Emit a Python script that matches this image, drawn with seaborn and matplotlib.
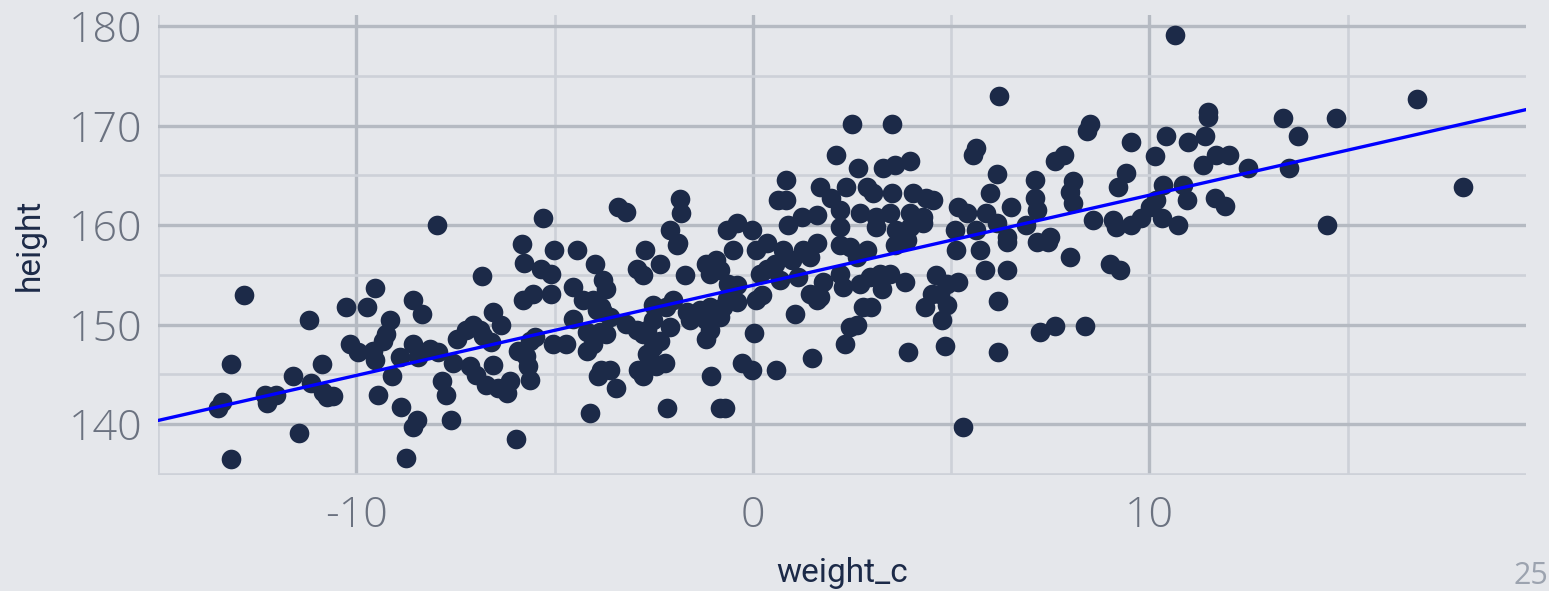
import matplotlib
matplotlib.use("Agg")
import matplotlib.pyplot as plt
from matplotlib.ticker import MultipleLocator
import seaborn as sns
import pandas as pd

# centred weight (kg) and height (cm)
weight_c = [
    -12.83, -13.17, -13.17, -13.39, -13.49, -12.31, -12.26, -12.03, -11.59, -11.44,
    -11.19, -10.86, -11.13, -10.84, -10.75, -10.59, -10.25, -9.74, -9.52, -10.16,
    -9.95, -9.58, -9.53, -9.32, -9.24, -9.16, -9.45, -9.11, -5.81, -5.02,
    -4.43, -3.98, -5.78, -5.33, -5.08, -6.84, -3.79, -3.69, -4.53, -4.28,
    -4.03, -3.82, -5.79, -5.54, -5.08, -8.57, -8.33, -6.55, -6.34, -7.05,
    -7.22, -6.89, -7.47, -6.59, -6.80, -8.57, -8.15, -7.94, -8.44, -8.90,
    -5.92, -5.62, -5.50, -5.71, -5.67, -5.61, -5.04, -4.70, -4.53, -4.19,
    -4.03, -3.86, -3.69, -3.94, -3.78, -4.19, -7.56, -7.14, -6.97, -6.55,
    -6.72, -6.42, -6.13, -6.21, -7.85, -7.73, -3.82, -3.90, -3.44, -8.86,
    -8.48, -8.57, -7.60, -4.11, -5.96, -8.75, -7.96, -5.29, -3.40, -2.72,
    -1.92, -2.35, -2.93, -2.77, -1.72, -1.17, -0.92, -1.08, -0.83, -0.50,
    -0.62, -0.41, 0.09, 0.35, 0.76, 1.27, 1.61, 1.44, 0.98, 0.55,
    0.18, 0.35, 0.68, 1.14, 1.77, 2.28, 2.19, -3.61, -3.19, -2.93,
    -2.51, -2.68, -2.77, -2.35, -2.51, -2.09, -1.59, -1.67, -2.01, -2.51,
    -2.18, -1.34, -1.08, -0.75, -1.17, -1.00, -0.83, -1.08, -1.17, -0.41,
    -0.66, 0.09, 0.22, -3.61, -2.89, -2.77, -2.60, -2.43, -2.22, -2.68,
    -2.16, -1.06, -0.83, -0.71, -0.28, -0.03, 0.58, 0.03, 1.06, 1.50,
    1.61, 1.69, 1.44, 2.32, 2.45, 2.45, 2.87, 2.62, 2.19, 2.70,
    2.95, 3.20, 3.46, 3.25, 3.83, 2.78, 2.99, 2.62, 3.58, 5.12,
    4.63, 4.89, 5.18, 4.51, 4.72, 4.34, 4.89, 4.76, 3.92, 4.84,
    5.73, 5.85, 6.40, 6.40, 7.16, 7.45, 7.99, 6.19, 6.19, 7.24,
    7.62, 8.37, 5.29, 9.00, 9.26, -3.19, -1.84, -1.80, -2.09, -1.88,
    -0.66, -0.41, -0.03, 0.89, 1.23, 1.61, 0.64, 0.85, 0.85, 1.69,
    1.98, 2.36, 2.11, 2.50, 2.19, 2.19, 3.50, 2.66, 3.29, 3.58,
    3.96, 6.20, 5.56, 5.64, 6.15, 5.98, 7.11, 7.11, 7.16, 7.62,
    7.84, 8.08, 7.99, 8.08, 6.52, 5.18, 5.39, 5.89, 5.09, 5.64,
    6.15, 6.40, 6.90, 7.49, 2.87, 3.03, 3.50, 4.04, 4.38, 4.55,
    2.70, 3.12, 3.46, 3.96, 4.30, 3.12, 3.62, 3.96, 4.30, 3.88,
    10.64, 11.48, 11.48, 8.50, 8.42, 9.53, 10.42, 10.14, 10.98, 11.40,
    11.69, 12.01, 11.36, 12.49, 13.37, 13.75, 13.53, 9.42, 9.21, 10.35,
    10.85, 10.94, 10.18, 10.01, 10.31, 9.80, 9.55, 9.09, 9.17, 8.58,
    10.73, 11.65, 11.90, 14.70, 16.74, 17.91, 14.49,
]
height = [
    153.0, 146.0, 136.5, 142.2, 141.6, 142.9, 142.1, 142.9, 144.8, 139.1,
    150.5, 146.0, 144.1, 143.2, 142.7, 142.8, 151.8, 151.8, 153.7, 148.1,
    147.3, 147.4, 146.4, 148.4, 149.1, 150.5, 142.9, 144.8, 158.1, 157.5,
    157.5, 156.1, 156.2, 155.6, 155.1, 154.9, 154.5, 153.6, 153.8, 152.5,
    152.5, 151.8, 152.5, 153.1, 153.1, 152.5, 151.1, 151.3, 150.0, 150.0,
    149.5, 149.5, 148.6, 148.3, 148.9, 148.1, 147.6, 147.3, 146.8, 146.8,
    147.4, 148.4, 148.8, 146.9, 145.8, 144.4, 148.1, 148.1, 150.6, 147.4,
    148.1, 149.3, 149.1, 151.5, 151.3, 149.3, 146.1, 145.8, 144.9, 145.9,
    143.9, 143.6, 144.3, 143.1, 144.3, 142.9, 145.4, 144.8, 143.6, 141.7,
    140.4, 139.7, 140.4, 141.1, 138.5, 136.6, 160.0, 160.7, 161.8, 157.5,
    158.0, 156.1, 155.6, 155.0, 155.0, 156.1, 156.5, 155.1, 155.5, 157.5,
    154.1, 154.0, 157.5, 158.2, 157.5, 157.5, 158.2, 156.8, 156.5, 156.1,
    155.1, 155.6, 154.5, 154.8, 154.3, 153.8, 158.0, 150.8, 150.1, 149.5,
    150.5, 149.5, 149.1, 148.4, 147.8, 149.8, 150.5, 151.3, 152.5, 152.0,
    151.8, 151.5, 151.8, 151.8, 150.5, 150.6, 150.8, 149.5, 148.6, 152.3,
    152.6, 152.5, 153.0, 145.4, 145.4, 144.8, 146.6, 145.8, 146.1, 147.1,
    141.6, 144.8, 141.6, 141.6, 146.1, 145.4, 145.4, 149.2, 151.1, 146.7,
    152.5, 152.8, 153.1, 148.1, 149.8, 157.8, 157.5, 156.8, 155.1, 154.1,
    154.8, 155.1, 155.1, 153.6, 154.3, 151.8, 151.8, 150.0, 158.0, 157.5,
    155.0, 154.1, 154.3, 153.1, 153.1, 151.8, 152.0, 150.5, 147.3, 147.9,
    157.5, 155.5, 155.5, 158.3, 158.3, 158.3, 156.8, 152.4, 147.3, 149.3,
    149.9, 149.9, 139.7, 156.1, 155.5, 161.3, 162.6, 161.2, 159.5, 158.2,
    159.5, 160.2, 159.5, 160.0, 160.8, 161.0, 162.5, 162.5, 164.5, 163.8,
    162.7, 163.8, 167.0, 170.2, 161.5, 159.8, 170.2, 165.7, 165.7, 166.0,
    166.4, 173.0, 167.0, 167.7, 165.1, 163.2, 164.5, 162.7, 161.5, 166.4,
    167.0, 164.4, 163.3, 162.2, 161.8, 161.8, 161.2, 161.2, 159.5, 159.5,
    160.2, 158.8, 160.0, 158.8, 163.8, 163.2, 163.2, 163.2, 162.7, 162.5,
    161.2, 160.8, 161.2, 161.2, 160.8, 159.8, 159.5, 159.8, 160.2, 158.5,
    179.1, 171.4, 170.9, 170.2, 169.4, 168.3, 168.9, 166.9, 168.3, 168.9,
    167.0, 167.0, 166.0, 165.7, 170.8, 168.9, 165.7, 165.2, 163.8, 164.0,
    164.0, 162.5, 162.5, 161.8, 160.7, 160.7, 160.0, 160.5, 159.8, 160.5,
    160.0, 162.7, 161.9, 170.8, 172.7, 163.8, 160.0,
]

# fitted line
intercept = 153.95
slope = 0.905

df = pd.DataFrame({"weight_c": weight_c, "height": height})

bg = "#E5E7EB"
grid_major = "#B5BAC2"
grid_minor = "#CDD1D8"
tick_col = "#6B7280"
navy = "#1C2A48"

sns.set_theme(style="darkgrid")
plt.rcParams["font.family"] = ["Open Sans", "DejaVu Sans"]
plt.rcParams["axes.unicode_minus"] = False

fig = plt.figure(figsize=(15.49, 5.91), dpi=100, facecolor=bg)
ax = fig.add_axes([158 / 1549, 1 - 475 / 591, (1526 - 158) / 1549, 460 / 591])
ax.set_facecolor(bg)

sns.scatterplot(data=df, x="weight_c", y="height", ax=ax, s=200,
                color=navy, linewidth=0, alpha=1, zorder=3)
ax.axline((0, intercept), slope=slope, color="#0000FF", linewidth=2.4, zorder=4)

ax.set_xlim(-15.0, 19.5)
ax.set_ylim(134.9, 181.1)
ax.xaxis.set_major_locator(MultipleLocator(10))
ax.xaxis.set_minor_locator(MultipleLocator(5))
ax.yaxis.set_major_locator(MultipleLocator(10))
ax.yaxis.set_minor_locator(MultipleLocator(5))

ax.grid(which="major", color=grid_major, linewidth=2.4)
ax.grid(which="minor", color=grid_minor, linewidth=1.9)
ax.set_axisbelow(True)
for s in ax.spines.values():
    s.set_visible(False)

ax.tick_params(which="major", length=6, width=2.4, color=grid_major,
               labelsize=31, labelcolor=tick_col, pad=5)
ax.tick_params(axis="x", which="major", pad=8)
ax.tick_params(which="minor", length=3, width=1.9, color=grid_minor,
               labelbottom=False, labelleft=False)
for lab in ax.get_xticklabels() + ax.get_yticklabels():
    lab.set_fontweight("light")

title_font = dict(fontsize=24, color=navy, fontweight="normal",
                  family=["Roboto", "DejaVu Sans"])
ax.set_xlabel("weight_c", **title_font)
ax.set_ylabel("height", **title_font)
ax.xaxis.set_label_coords(0.5, -0.213)
ax.xaxis.label.set_va("center")
ax.yaxis.set_label_coords(-0.0936, 0.5)
ax.yaxis.label.set_va("center")

# slide number in the bottom-right corner
fig.text(1548 / 1549, 1 - 576 / 591, "25", fontsize=22, color="#9CA3AF",
         ha="right", va="center")

fig.savefig("out.png", dpi=100, facecolor=bg)
